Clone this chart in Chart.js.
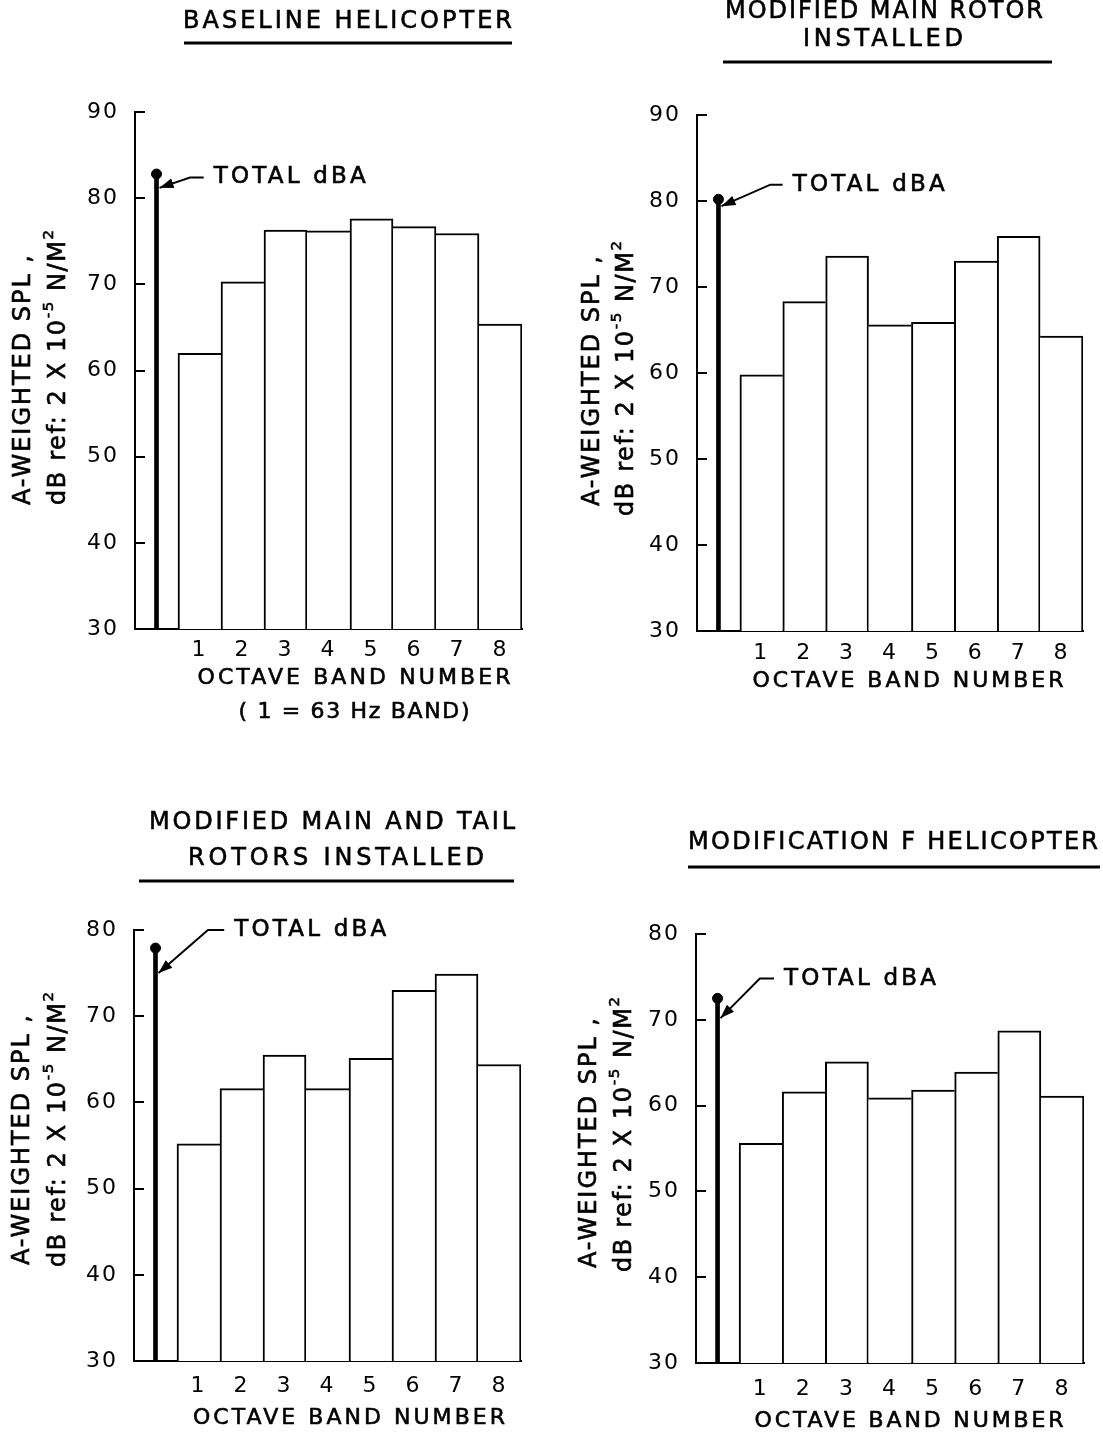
<!DOCTYPE html>
<html><head><meta charset="utf-8">
<script src="https://cdn.jsdelivr.net/npm/chart.js@4/dist/chart.umd.min.js"></script>
<style>
html,body{margin:0;padding:0;background:#fff;}
body{width:1103px;height:1435px;position:relative;overflow:hidden;}
canvas{position:absolute;}
</style></head><body>
<canvas id="c1"></canvas><canvas id="c2"></canvas><canvas id="c3"></canvas><canvas id="c4"></canvas>
<script>
// ---------- DATA ----------
const bandLabels = ['', '1', '2', '3', '4', '5', '6', '7', '8'];
const yRangeTop = [30, 90];
const yRangeBottom = [30, 80];
const yStep = 10;

const baselineBands   = [62.0, 70.3, 76.3, 76.2, 77.6, 76.7, 75.9, 65.4];
const baselineTotal   = 82.8;
const mainRotorBands  = [59.8, 68.3, 73.6, 65.6, 65.9, 73.0, 75.9, 64.3];
const mainRotorTotal  = 80.2;
const mainTailBands   = [55.2, 61.6, 65.5, 61.6, 65.1, 73.0, 74.9, 64.4];
const mainTailTotal   = 77.9;
const modFBands       = [55.6, 61.6, 65.1, 60.9, 61.8, 63.9, 68.7, 61.1];
const modFTotal       = 72.5;

const titleBaseline  = ['BASELINE HELICOPTER'];
const titleMainRotor = ['MODIFIED MAIN ROTOR', 'INSTALLED'];
const titleMainTail  = ['MODIFIED MAIN AND TAIL', 'ROTORS INSTALLED'];
const titleModF      = ['MODIFICATION F HELICOPTER'];
const xTitle = 'OCTAVE BAND NUMBER';
const xSubTitle = '( 1 = 63 Hz BAND)';
const yTitle1 = [{t: 'A-WEIGHTED SPL ,'}];
const yTitle2 = [{t: 'dB ref: 2 X 10'}, {t: '-5', sup: true}, {t: ' N/M'}, {t: '2', sup: true}];
const totalLabel = 'TOTAL dBA';

// ---------- LAYOUT ----------
const FONT = '"DejaVu Sans"';
const panels = [
  { id: 'c1', box: [0, 0, 551, 745], area: [135, 112, 522, 629], range: yRangeTop,
    bands: baselineBands, total: baselineTotal, tickPad: 0,
    titles: [{ t: titleBaseline[0], x: 347.5, y: 22, w: 329 }], ul: [43, 184, 512],
    xTitles: [{ t: xTitle, x: 354, y: 678, w: 313 }, { t: xSubTitle, x: 354, y: 712, w: 231 }],
    yT: [{ x: 24, y: 505, w: 250 }, { x: 59, y: 505, w: 275 }],
    ann: { text: 82.4, start: 1.83, elbow: 1.28, tip: 81.2 } },
  { id: 'c2', box: [551, 0, 552, 745], area: [697, 115, 1083, 631], range: yRangeTop,
    bands: mainRotorBands, total: mainRotorTotal, tickPad: 1,
    titles: [{ t: titleMainRotor[0], x: 884, y: 12, w: 318 }, { t: titleMainRotor[1], x: 883, y: 40, w: 160 }], ul: [62, 723, 1052],
    xTitles: [{ t: xTitle, x: 908, y: 681, w: 311 }],
    yT: [{ x: 593, y: 506, w: 250 }, { x: 627, y: 516, w: 275 }],
    ann: { text: 81.9, start: 2.23, elbow: 1.71, tip: 79.4 } },
  { id: 'c3', box: [0, 745, 551, 690], area: [134, 930, 521, 1361], range: yRangeBottom,
    bands: mainTailBands, total: mainTailTotal, tickPad: 4,
    titles: [{ t: titleMainTail[0], x: 332, y: 823, w: 366 }, { t: titleMainTail[1], x: 336, y: 859, w: 296 }], ul: [881, 139, 514],
    xTitles: [{ t: xTitle, x: 349, y: 1418, w: 312 }],
    yT: [{ x: 23, y: 1265, w: 250 }, { x: 59, y: 1267, w: 275 }],
    ann: { text: 80.0, start: 2.33, elbow: 1.72, tip: 75.0 } },
  { id: 'c4', box: [551, 745, 552, 690], area: [696, 934, 1084, 1363], range: yRangeBottom,
    bands: modFBands, total: modFTotal, tickPad: 5,
    titles: [{ t: titleModF[0], x: 893, y: 843, w: 410 }], ul: [867, 688, 1100],
    xTitles: [{ t: xTitle, x: 909, y: 1421, w: 309 }],
    yT: [{ x: 590, y: 1268, w: 250 }, { x: 625, y: 1272, w: 275 }],
    ann: { text: 74.8, start: 2.04, elbow: 1.48, tip: 70.2 } }
];

// ---------- TEXT HELPERS ----------
function fontStr(size) { return size + 'px ' + FONT; }
function drawFitted(ctx, runs, x, y, size, target, align) {
  if (typeof runs === 'string') runs = [{ t: runs }];
  ctx.letterSpacing = '0px';
  let nat = 0, n = 0;
  const w0 = runs.map(r => { ctx.font = fontStr(r.sup ? size * 0.62 : size); const w = ctx.measureText(r.t).width; nat += w; n += [...r.t].length; return w; });
  const sp = target ? Math.max(0, (target - nat) / Math.max(1, n - 1)) : 0;
  const total = nat + sp * (n - 1);
  let cx = align === 'center' ? x - total / 2 : x;
  ctx.textAlign = 'left';
  ctx.textBaseline = 'middle';
  ctx.lineWidth = 0.6;
  runs.forEach((r, i) => {
    const s = r.sup ? size * 0.62 : size;
    ctx.font = fontStr(s);
    ctx.letterSpacing = sp + 'px';
    const yy = r.sup ? y - size * 0.42 : y;
    ctx.fillText(r.t, cx, yy);
    ctx.strokeText(r.t, cx, yy);
    cx += w0[i] + sp * [...r.t].length;
  });
  ctx.letterSpacing = '0px';
}

// ---------- PLUGIN ----------
const decor = {
  id: 'decor',
  beforeUpdate(chart) { chart.ctx.letterSpacing = '2px'; },
  beforeDraw(chart) { chart.ctx.letterSpacing = '2px'; },
  afterDraw(chart) {
    const p = chart.options.plugins.decor.panel;
    const ctx = chart.ctx;
    const ox = p.box[0], oy = p.box[1];
    const xs = chart.scales.x, ys = chart.scales.y;
    ctx.save();
    ctx.fillStyle = '#000';
    ctx.strokeStyle = '#000';
    // inward y ticks
    ctx.lineWidth = 2;
    ys.ticks.forEach(t => {
      const y = Math.round(ys.getPixelForValue(t.value));
      ctx.beginPath(); ctx.moveTo(xs.left, y); ctx.lineTo(xs.left + 10, y); ctx.stroke();
    });
    // titles + underline
    p.titles.forEach(t => drawFitted(ctx, t.t, t.x - ox, t.y - oy, 24, t.w, 'center'));
    ctx.lineWidth = 3;
    ctx.beginPath(); ctx.moveTo(p.ul[1] - ox, p.ul[0] - oy); ctx.lineTo(p.ul[2] - ox, p.ul[0] - oy); ctx.stroke();
    // x titles
    p.xTitles.forEach(t => drawFitted(ctx, t.t, t.x - ox, t.y - oy, 22, t.w, 'center'));
    // y titles (rotated)
    [yTitle1, yTitle2].forEach((runs, i) => {
      const a = p.yT[i];
      ctx.save();
      ctx.translate(a.x - ox, a.y - oy);
      ctx.rotate(-Math.PI / 2);
      drawFitted(ctx, runs, 0, 0, 24, a.w, 'left');
      ctx.restore();
    });
    // TOTAL dBA leader
    const a = p.ann;
    const slot = xs.getPixelForValue(1) - xs.getPixelForValue(0);
    const x0 = xs.getPixelForValue(0) - slot / 2;
    const stemX = xs.getPixelForValue(0);
    const tip = { x: stemX + 3, y: ys.getPixelForValue(a.tip) };
    const ly = ys.getPixelForValue(a.text);
    const elbow = { x: x0 + a.elbow * slot, y: ly };
    const tx = x0 + a.start * slot;
    ctx.lineWidth = 2;
    ctx.beginPath();
    ctx.moveTo(tip.x, tip.y); ctx.lineTo(elbow.x, elbow.y); ctx.lineTo(tx - 10, ly);
    ctx.stroke();
    const ang = Math.atan2(tip.y - elbow.y, tip.x - elbow.x);
    const L = 14, W = 5;
    ctx.beginPath();
    ctx.moveTo(tip.x, tip.y);
    ctx.lineTo(tip.x - L * Math.cos(ang) + W * Math.sin(ang), tip.y - L * Math.sin(ang) - W * Math.cos(ang));
    ctx.lineTo(tip.x - L * Math.cos(ang) - W * Math.sin(ang), tip.y - L * Math.sin(ang) + W * Math.cos(ang));
    ctx.closePath(); ctx.fill();
    drawFitted(ctx, totalLabel, tx, ly, 23, 152, 'left');
    ctx.restore();
  }
};

// border widths: each shared edge drawn by the taller neighbour
function bandBorder(c) {
  const d = c.dataset.data, i = c.dataIndex;
  const v = d[i], prev = d[i - 1], next = d[i + 1];
  const left = (prev == null || v >= prev) ? 2 : 0;
  const right = (next == null || v > next) ? 2 : 0;
  return { top: 2, left, right, bottom: 0 };
}

// ---------- CHARTS ----------
panels.forEach(p => {
  const cv = document.getElementById(p.id);
  const [bx, by, bw, bh] = p.box;
  cv.width = bw; cv.height = bh;
  cv.style.left = bx + 'px'; cv.style.top = by + 'px';
  cv.style.width = bw + 'px'; cv.style.height = bh + 'px';
  const [L, T, R, B] = p.area;
  const yW = 50, xH = 40;
  const n = bandLabels.length;
  new Chart(cv.getContext('2d'), {
    type: 'bar',
    data: {
      labels: bandLabels,
      datasets: [
        { type: 'line', data: [p.total].concat(Array(n - 1).fill(null)), showLine: false,
          pointRadius: 5, pointBackgroundColor: '#000', pointBorderColor: '#000', order: 0 },
        { data: [p.total].concat(Array(n - 1).fill(null)), backgroundColor: '#000', borderWidth: 0,
          barThickness: 4, grouped: false, order: 1 },
        { data: [null].concat(p.bands), backgroundColor: '#fff', borderColor: '#000',
          borderWidth: bandBorder,
          barPercentage: 1, categoryPercentage: 1, grouped: false, order: 2 }
      ]
    },
    options: {
      responsive: false, animation: false, devicePixelRatio: 1,
      layout: { padding: { left: L - bx - yW, top: T - by, right: bx + bw - R, bottom: by + bh - B - xH } },
      plugins: { legend: { display: false }, tooltip: { enabled: false }, decor: { panel: p } },
      scales: {
        x: { grid: { display: false }, border: { display: true, color: '#000', width: 2 },
             ticks: { color: '#000', font: { family: 'DejaVu Sans', size: 22 }, padding: p.tickPad, autoSkip: false, maxRotation: 0 },
             afterFit: s => { s.height = xH; } },
        y: { min: p.range[0], max: p.range[1], grid: { display: false }, border: { display: true, color: '#000', width: 2 },
             ticks: { stepSize: yStep, color: '#000', font: { family: 'DejaVu Sans', size: 22 }, padding: 8 },
             afterFit: s => { s.width = yW; } }
      }
    },
    plugins: [decor]
  });
});
</script>
</body></html>
